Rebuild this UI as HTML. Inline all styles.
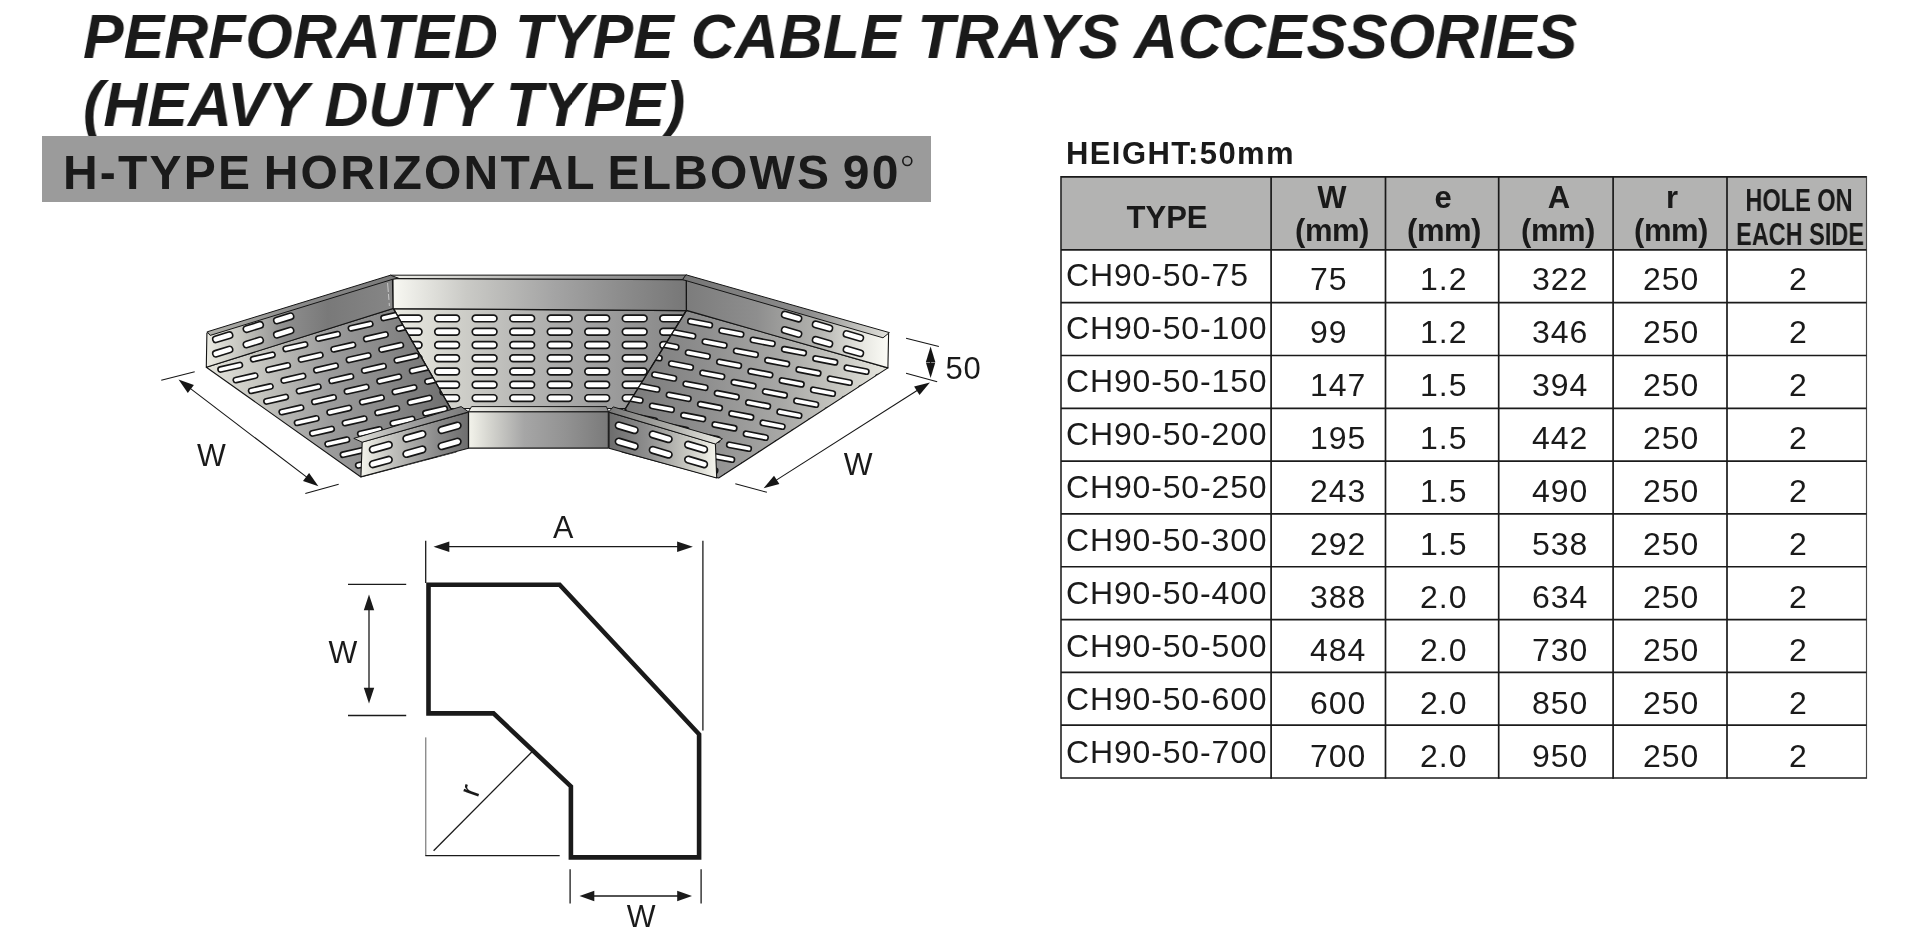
<!DOCTYPE html>
<html><head><meta charset="utf-8">
<style>
html,body{margin:0;padding:0;background:#fff;}
body{width:1920px;height:933px;position:relative;overflow:hidden;font-family:"Liberation Sans",sans-serif;color:#1a1a1a;}
.abs{position:absolute;white-space:nowrap;line-height:1;will-change:transform;}
.title{font-weight:bold;font-style:italic;font-size:63.7px;left:83px;transform-origin:0 0;transform:scaleX(0.956);}
#t1{top:3.7px;}
#t2{top:71.8px;}
#bar{position:absolute;left:42px;top:136px;width:889px;height:66px;background:#9b9b9b;}
#bartxt{font-weight:bold;font-size:48px;left:62.5px;top:149px;letter-spacing:2.2px;word-spacing:-4px;}
#hlabel{font-weight:bold;font-size:31px;left:1066px;top:138px;letter-spacing:1.4px;}
#thead{position:absolute;left:1061px;top:177px;width:805px;height:73px;background:#b3b3b2;}
.hd{font-weight:bold;font-size:31px;transform:translateX(-50%);}
.hn{font-weight:bold;font-size:31px;transform-origin:50% 50%;}
.tc{font-size:32px;letter-spacing:1px;}
svg{position:absolute;left:0;top:0;overflow:visible;}
</style></head>
<body>
<div class="abs title" id="t1">PERFORATED TYPE CABLE TRAYS ACCESSORIES</div>
<div class="abs title" id="t2">(HEAVY DUTY TYPE)</div>
<div id="bar"></div>
<div class="abs" id="bartxt">H-TYPE HORIZONTAL ELBOWS 90</div>
<div class="abs" id="hlabel">HEIGHT:50mm</div>
<div id="thead"></div>
<div class="abs hd" style="left:1166.5px;top:201.76px;">TYPE</div>
<div class="abs hd" style="left:1332.2px;top:181.66px;">W</div>
<div class="abs hd" style="left:1443.3px;top:181.66px;">e</div>
<div class="abs hd" style="left:1558.5px;top:181.66px;">A</div>
<div class="abs hd" style="left:1671.9px;top:181.66px;">r</div>
<div class="abs hd" style="left:1332.2px;top:215.16px;letter-spacing:-0.5px;">(mm)</div>
<div class="abs hd" style="left:1443.6px;top:215.16px;letter-spacing:-0.5px;">(mm)</div>
<div class="abs hd" style="left:1558.0px;top:215.16px;letter-spacing:-0.5px;">(mm)</div>
<div class="abs hd" style="left:1670.6px;top:215.16px;letter-spacing:-0.5px;">(mm)</div>
<div class="abs hd" style="left:1799.3px;top:184.56px;transform:translateX(-50%) scaleX(0.76);">HOLE ON</div>
<div class="abs hd" style="left:1799.75px;top:218.76px;transform:translateX(-50%) scaleX(0.757);">EACH SIDE</div>
<div class="abs tc" style="left:1066.2px;top:258.91px;letter-spacing:0.85px;">CH90-50-75</div>
<div class="abs tc" style="left:1310.0px;top:262.91px;">75</div>
<div class="abs tc" style="left:1420.0px;top:262.91px;">1.2</div>
<div class="abs tc" style="left:1531.7px;top:262.91px;">322</div>
<div class="abs tc" style="left:1643.2px;top:262.91px;">250</div>
<div class="abs tc" style="left:1789.0px;top:262.91px;">2</div>
<div class="abs tc" style="left:1066.2px;top:311.94px;letter-spacing:0.85px;">CH90-50-100</div>
<div class="abs tc" style="left:1310.0px;top:315.96px;">99</div>
<div class="abs tc" style="left:1420.0px;top:315.96px;">1.2</div>
<div class="abs tc" style="left:1531.7px;top:315.96px;">346</div>
<div class="abs tc" style="left:1643.2px;top:315.96px;">250</div>
<div class="abs tc" style="left:1789.0px;top:315.96px;">2</div>
<div class="abs tc" style="left:1066.2px;top:364.97px;letter-spacing:0.85px;">CH90-50-150</div>
<div class="abs tc" style="left:1310.0px;top:369.01px;">147</div>
<div class="abs tc" style="left:1420.0px;top:369.01px;">1.5</div>
<div class="abs tc" style="left:1531.7px;top:369.01px;">394</div>
<div class="abs tc" style="left:1643.2px;top:369.01px;">250</div>
<div class="abs tc" style="left:1789.0px;top:369.01px;">2</div>
<div class="abs tc" style="left:1066.2px;top:418.00px;letter-spacing:0.85px;">CH90-50-200</div>
<div class="abs tc" style="left:1310.0px;top:422.06px;">195</div>
<div class="abs tc" style="left:1420.0px;top:422.06px;">1.5</div>
<div class="abs tc" style="left:1531.7px;top:422.06px;">442</div>
<div class="abs tc" style="left:1643.2px;top:422.06px;">250</div>
<div class="abs tc" style="left:1789.0px;top:422.06px;">2</div>
<div class="abs tc" style="left:1066.2px;top:471.03px;letter-spacing:0.85px;">CH90-50-250</div>
<div class="abs tc" style="left:1310.0px;top:475.11px;">243</div>
<div class="abs tc" style="left:1420.0px;top:475.11px;">1.5</div>
<div class="abs tc" style="left:1531.7px;top:475.11px;">490</div>
<div class="abs tc" style="left:1643.2px;top:475.11px;">250</div>
<div class="abs tc" style="left:1789.0px;top:475.11px;">2</div>
<div class="abs tc" style="left:1066.2px;top:524.06px;letter-spacing:0.85px;">CH90-50-300</div>
<div class="abs tc" style="left:1310.0px;top:528.16px;">292</div>
<div class="abs tc" style="left:1420.0px;top:528.16px;">1.5</div>
<div class="abs tc" style="left:1531.7px;top:528.16px;">538</div>
<div class="abs tc" style="left:1643.2px;top:528.16px;">250</div>
<div class="abs tc" style="left:1789.0px;top:528.16px;">2</div>
<div class="abs tc" style="left:1066.2px;top:577.09px;letter-spacing:0.85px;">CH90-50-400</div>
<div class="abs tc" style="left:1310.0px;top:581.21px;">388</div>
<div class="abs tc" style="left:1420.0px;top:581.21px;">2.0</div>
<div class="abs tc" style="left:1531.7px;top:581.21px;">634</div>
<div class="abs tc" style="left:1643.2px;top:581.21px;">250</div>
<div class="abs tc" style="left:1789.0px;top:581.21px;">2</div>
<div class="abs tc" style="left:1066.2px;top:630.12px;letter-spacing:0.85px;">CH90-50-500</div>
<div class="abs tc" style="left:1310.0px;top:634.26px;">484</div>
<div class="abs tc" style="left:1420.0px;top:634.26px;">2.0</div>
<div class="abs tc" style="left:1531.7px;top:634.26px;">730</div>
<div class="abs tc" style="left:1643.2px;top:634.26px;">250</div>
<div class="abs tc" style="left:1789.0px;top:634.26px;">2</div>
<div class="abs tc" style="left:1066.2px;top:683.15px;letter-spacing:0.85px;">CH90-50-600</div>
<div class="abs tc" style="left:1310.0px;top:687.31px;">600</div>
<div class="abs tc" style="left:1420.0px;top:687.31px;">2.0</div>
<div class="abs tc" style="left:1531.7px;top:687.31px;">850</div>
<div class="abs tc" style="left:1643.2px;top:687.31px;">250</div>
<div class="abs tc" style="left:1789.0px;top:687.31px;">2</div>
<div class="abs tc" style="left:1066.2px;top:736.18px;letter-spacing:0.85px;">CH90-50-700</div>
<div class="abs tc" style="left:1310.0px;top:740.36px;">700</div>
<div class="abs tc" style="left:1420.0px;top:740.36px;">2.0</div>
<div class="abs tc" style="left:1531.7px;top:740.36px;">950</div>
<div class="abs tc" style="left:1643.2px;top:740.36px;">250</div>
<div class="abs tc" style="left:1789.0px;top:740.36px;">2</div>
<svg width="1920" height="933" viewBox="0 0 1920 933">
<g stroke="#1a1a1a" stroke-width="1.7" fill="none">
<line x1="1061" y1="176.05" x2="1061" y2="778.85" stroke="#303030"/>
<line x1="1271.1" y1="176.05" x2="1271.1" y2="778.85"/>
<line x1="1385.5" y1="176.05" x2="1385.5" y2="778.85"/>
<line x1="1498.7" y1="176.05" x2="1498.7" y2="778.85"/>
<line x1="1613.1" y1="176.05" x2="1613.1" y2="778.85"/>
<line x1="1727.0" y1="176.05" x2="1727.0" y2="778.85"/>
<line x1="1866.5" y1="176.05" x2="1866.5" y2="778.85" stroke="#484848" stroke-width="1.15"/>
<line x1="1061" y1="176.9" x2="1866.4" y2="176.9"/>
<line x1="1061" y1="249.90" x2="1866.4" y2="249.90"/>
<line x1="1061" y1="302.71" x2="1866.4" y2="302.71"/>
<line x1="1061" y1="355.52" x2="1866.4" y2="355.52"/>
<line x1="1061" y1="408.33" x2="1866.4" y2="408.33"/>
<line x1="1061" y1="461.14" x2="1866.4" y2="461.14"/>
<line x1="1061" y1="513.95" x2="1866.4" y2="513.95"/>
<line x1="1061" y1="566.76" x2="1866.4" y2="566.76"/>
<line x1="1061" y1="619.57" x2="1866.4" y2="619.57"/>
<line x1="1061" y1="672.38" x2="1866.4" y2="672.38"/>
<line x1="1061" y1="725.19" x2="1866.4" y2="725.19"/>
<line x1="1061" y1="778.00" x2="1866.4" y2="778.00"/>
</g>
<circle cx="907.3" cy="161" r="4.5" fill="none" stroke="#1a1a1a" stroke-width="1.6"/>
</svg>
<svg width="1920" height="933" viewBox="0 0 1920 933">
<defs>
<linearGradient id="gLW" gradientUnits="userSpaceOnUse" x1="207" y1="0" x2="393" y2="0"><stop offset="0" stop-color="#eaeae2"/><stop offset="0.2" stop-color="#c2c2bc"/><stop offset="0.42" stop-color="#8e8e8e"/><stop offset="0.65" stop-color="#797979"/><stop offset="1" stop-color="#868686"/></linearGradient>
<linearGradient id="gLR" gradientUnits="userSpaceOnUse" x1="207" y1="0" x2="393" y2="0"><stop offset="0" stop-color="#b0b0aa"/><stop offset="0.5" stop-color="#8a8a8a"/><stop offset="1" stop-color="#7a7a7a"/></linearGradient>
<linearGradient id="gLF" gradientUnits="userSpaceOnUse" x1="206" y1="0" x2="452" y2="0"><stop offset="0" stop-color="#e6e6de"/><stop offset="0.2" stop-color="#c8c8c2"/><stop offset="0.5" stop-color="#9c9c9c"/><stop offset="0.8" stop-color="#828282"/><stop offset="1" stop-color="#6e6e6e"/></linearGradient>
<linearGradient id="gCF" gradientUnits="userSpaceOnUse" x1="393" y1="0" x2="686" y2="0"><stop offset="0" stop-color="#ecece4"/><stop offset="0.2" stop-color="#d2d2cc"/><stop offset="0.45" stop-color="#b6b6b4"/><stop offset="0.7" stop-color="#a0a0a0"/><stop offset="1" stop-color="#858585"/></linearGradient>
<linearGradient id="gBW" gradientUnits="userSpaceOnUse" x1="393" y1="0" x2="686" y2="0"><stop offset="0" stop-color="#f8f8f2"/><stop offset="0.25" stop-color="#cacac6"/><stop offset="0.55" stop-color="#a4a4a4"/><stop offset="0.8" stop-color="#8a8a8a"/><stop offset="1" stop-color="#777777"/></linearGradient>
<linearGradient id="gBR" gradientUnits="userSpaceOnUse" x1="390" y1="0" x2="688" y2="0"><stop offset="0" stop-color="#f0f0ea"/><stop offset="0.3" stop-color="#cacac6"/><stop offset="0.6" stop-color="#a2a2a2"/><stop offset="1" stop-color="#7c7c7c"/></linearGradient>
<linearGradient id="gRW" gradientUnits="userSpaceOnUse" x1="686" y1="0" x2="888" y2="0"><stop offset="0" stop-color="#7c7c7c"/><stop offset="0.35" stop-color="#8e8e8e"/><stop offset="0.65" stop-color="#b2b2ae"/><stop offset="0.88" stop-color="#e8e8e2"/><stop offset="1" stop-color="#fbfbf6"/></linearGradient>
<linearGradient id="gRR" gradientUnits="userSpaceOnUse" x1="686" y1="0" x2="888" y2="0"><stop offset="0" stop-color="#777"/><stop offset="0.6" stop-color="#8c8c8c"/><stop offset="1" stop-color="#e0e0da"/></linearGradient>
<linearGradient id="gRF" gradientUnits="userSpaceOnUse" x1="625" y1="0" x2="888" y2="0"><stop offset="0" stop-color="#7a7a7a"/><stop offset="0.3" stop-color="#8e8e8e"/><stop offset="0.6" stop-color="#a8a8a6"/><stop offset="0.82" stop-color="#c8c8c2"/><stop offset="1" stop-color="#e8e8e0"/></linearGradient>
<linearGradient id="gFW" gradientUnits="userSpaceOnUse" x1="468" y1="0" x2="608" y2="0"><stop offset="0" stop-color="#f4f4ec"/><stop offset="0.15" stop-color="#d6d6d0"/><stop offset="0.4" stop-color="#a6a6a6"/><stop offset="0.7" stop-color="#929292"/><stop offset="1" stop-color="#7a7a7a"/></linearGradient>
<linearGradient id="gFR" gradientUnits="userSpaceOnUse" x1="468" y1="0" x2="608" y2="0"><stop offset="0" stop-color="#f0f0ea"/><stop offset="0.5" stop-color="#c0c0bc"/><stop offset="1" stop-color="#8a8a8a"/></linearGradient>
<linearGradient id="gIL" gradientUnits="userSpaceOnUse" x1="361" y1="0" x2="468" y2="0"><stop offset="0" stop-color="#f4f4ec"/><stop offset="0.3" stop-color="#c0c0bc"/><stop offset="0.7" stop-color="#8c8c8c"/><stop offset="1" stop-color="#6e6e6e"/></linearGradient>
<linearGradient id="gILR" gradientUnits="userSpaceOnUse" x1="354" y1="0" x2="468" y2="0"><stop offset="0" stop-color="#e0e0da"/><stop offset="0.5" stop-color="#a0a0a0"/><stop offset="1" stop-color="#7a7a7a"/></linearGradient>
<linearGradient id="gIR" gradientUnits="userSpaceOnUse" x1="609" y1="0" x2="717" y2="0"><stop offset="0" stop-color="#6c6c6c"/><stop offset="0.35" stop-color="#8e8e8e"/><stop offset="0.7" stop-color="#c4c4be"/><stop offset="1" stop-color="#f6f6ee"/></linearGradient>
<linearGradient id="gIRR" gradientUnits="userSpaceOnUse" x1="609" y1="0" x2="723" y2="0"><stop offset="0" stop-color="#777"/><stop offset="0.5" stop-color="#a8a8a4"/><stop offset="1" stop-color="#ecece6"/></linearGradient>
<clipPath id="cLF"><polygon points="206.3,367.2 393.4,308.6 451.0,408.8 456.0,420.0 456.0,452.0 360.9,477.0"/></clipPath>
<clipPath id="cCF"><polygon points="393.4,308.6 686.3,310.6 626.3,408.5 450.5,408.5"/></clipPath>
<clipPath id="cRF"><polygon points="686.5,310.4 887.9,367.9 718.6,478.0 622.0,452.0 622.0,415.0 625.0,409.0"/></clipPath>
</defs>
<polygon points="393.4,308.6 686.3,310.6 626.3,408.5 450.5,408.5" fill="url(#gCF)" stroke="#151515" stroke-width="1.1" stroke-linejoin="round" />
<g clip-path="url(#cCF)" fill="#fff" stroke="#151515" stroke-width="1.7">
<rect x="-12.35" y="-3.35" width="24.70" height="6.70" rx="3.35" transform="translate(409.6,318.4) rotate(0.0)"/>
<rect x="-12.35" y="-3.35" width="24.70" height="6.70" rx="3.35" transform="translate(409.6,331.7) rotate(0.0)"/>
<rect x="-12.35" y="-3.35" width="24.70" height="6.70" rx="3.35" transform="translate(409.6,345.0) rotate(0.0)"/>
<rect x="-12.35" y="-3.35" width="24.70" height="6.70" rx="3.35" transform="translate(409.6,358.2) rotate(0.0)"/>
<rect x="-12.35" y="-3.35" width="24.70" height="6.70" rx="3.35" transform="translate(409.6,371.5) rotate(0.0)"/>
<rect x="-12.35" y="-3.35" width="24.70" height="6.70" rx="3.35" transform="translate(409.6,384.8) rotate(0.0)"/>
<rect x="-12.35" y="-3.35" width="24.70" height="6.70" rx="3.35" transform="translate(409.6,398.1) rotate(0.0)"/>
<rect x="-12.35" y="-3.35" width="24.70" height="6.70" rx="3.35" transform="translate(447.1,318.4) rotate(0.0)"/>
<rect x="-12.35" y="-3.35" width="24.70" height="6.70" rx="3.35" transform="translate(447.1,331.7) rotate(0.0)"/>
<rect x="-12.35" y="-3.35" width="24.70" height="6.70" rx="3.35" transform="translate(447.1,345.0) rotate(0.0)"/>
<rect x="-12.35" y="-3.35" width="24.70" height="6.70" rx="3.35" transform="translate(447.1,358.2) rotate(0.0)"/>
<rect x="-12.35" y="-3.35" width="24.70" height="6.70" rx="3.35" transform="translate(447.1,371.5) rotate(0.0)"/>
<rect x="-12.35" y="-3.35" width="24.70" height="6.70" rx="3.35" transform="translate(447.1,384.8) rotate(0.0)"/>
<rect x="-12.35" y="-3.35" width="24.70" height="6.70" rx="3.35" transform="translate(447.1,398.1) rotate(0.0)"/>
<rect x="-12.35" y="-3.35" width="24.70" height="6.70" rx="3.35" transform="translate(484.6,318.4) rotate(0.0)"/>
<rect x="-12.35" y="-3.35" width="24.70" height="6.70" rx="3.35" transform="translate(484.6,331.7) rotate(0.0)"/>
<rect x="-12.35" y="-3.35" width="24.70" height="6.70" rx="3.35" transform="translate(484.6,345.0) rotate(0.0)"/>
<rect x="-12.35" y="-3.35" width="24.70" height="6.70" rx="3.35" transform="translate(484.6,358.2) rotate(0.0)"/>
<rect x="-12.35" y="-3.35" width="24.70" height="6.70" rx="3.35" transform="translate(484.6,371.5) rotate(0.0)"/>
<rect x="-12.35" y="-3.35" width="24.70" height="6.70" rx="3.35" transform="translate(484.6,384.8) rotate(0.0)"/>
<rect x="-12.35" y="-3.35" width="24.70" height="6.70" rx="3.35" transform="translate(484.6,398.1) rotate(0.0)"/>
<rect x="-12.35" y="-3.35" width="24.70" height="6.70" rx="3.35" transform="translate(522.2,318.4) rotate(0.0)"/>
<rect x="-12.35" y="-3.35" width="24.70" height="6.70" rx="3.35" transform="translate(522.2,331.7) rotate(0.0)"/>
<rect x="-12.35" y="-3.35" width="24.70" height="6.70" rx="3.35" transform="translate(522.2,345.0) rotate(0.0)"/>
<rect x="-12.35" y="-3.35" width="24.70" height="6.70" rx="3.35" transform="translate(522.2,358.2) rotate(0.0)"/>
<rect x="-12.35" y="-3.35" width="24.70" height="6.70" rx="3.35" transform="translate(522.2,371.5) rotate(0.0)"/>
<rect x="-12.35" y="-3.35" width="24.70" height="6.70" rx="3.35" transform="translate(522.2,384.8) rotate(0.0)"/>
<rect x="-12.35" y="-3.35" width="24.70" height="6.70" rx="3.35" transform="translate(522.2,398.1) rotate(0.0)"/>
<rect x="-12.35" y="-3.35" width="24.70" height="6.70" rx="3.35" transform="translate(559.7,318.4) rotate(0.0)"/>
<rect x="-12.35" y="-3.35" width="24.70" height="6.70" rx="3.35" transform="translate(559.7,331.7) rotate(0.0)"/>
<rect x="-12.35" y="-3.35" width="24.70" height="6.70" rx="3.35" transform="translate(559.7,345.0) rotate(0.0)"/>
<rect x="-12.35" y="-3.35" width="24.70" height="6.70" rx="3.35" transform="translate(559.7,358.2) rotate(0.0)"/>
<rect x="-12.35" y="-3.35" width="24.70" height="6.70" rx="3.35" transform="translate(559.7,371.5) rotate(0.0)"/>
<rect x="-12.35" y="-3.35" width="24.70" height="6.70" rx="3.35" transform="translate(559.7,384.8) rotate(0.0)"/>
<rect x="-12.35" y="-3.35" width="24.70" height="6.70" rx="3.35" transform="translate(559.7,398.1) rotate(0.0)"/>
<rect x="-12.35" y="-3.35" width="24.70" height="6.70" rx="3.35" transform="translate(597.2,318.4) rotate(0.0)"/>
<rect x="-12.35" y="-3.35" width="24.70" height="6.70" rx="3.35" transform="translate(597.2,331.7) rotate(0.0)"/>
<rect x="-12.35" y="-3.35" width="24.70" height="6.70" rx="3.35" transform="translate(597.2,345.0) rotate(0.0)"/>
<rect x="-12.35" y="-3.35" width="24.70" height="6.70" rx="3.35" transform="translate(597.2,358.2) rotate(0.0)"/>
<rect x="-12.35" y="-3.35" width="24.70" height="6.70" rx="3.35" transform="translate(597.2,371.5) rotate(0.0)"/>
<rect x="-12.35" y="-3.35" width="24.70" height="6.70" rx="3.35" transform="translate(597.2,384.8) rotate(0.0)"/>
<rect x="-12.35" y="-3.35" width="24.70" height="6.70" rx="3.35" transform="translate(597.2,398.1) rotate(0.0)"/>
<rect x="-12.35" y="-3.35" width="24.70" height="6.70" rx="3.35" transform="translate(634.7,318.4) rotate(0.0)"/>
<rect x="-12.35" y="-3.35" width="24.70" height="6.70" rx="3.35" transform="translate(634.7,331.7) rotate(0.0)"/>
<rect x="-12.35" y="-3.35" width="24.70" height="6.70" rx="3.35" transform="translate(634.7,345.0) rotate(0.0)"/>
<rect x="-12.35" y="-3.35" width="24.70" height="6.70" rx="3.35" transform="translate(634.7,358.2) rotate(0.0)"/>
<rect x="-12.35" y="-3.35" width="24.70" height="6.70" rx="3.35" transform="translate(634.7,371.5) rotate(0.0)"/>
<rect x="-12.35" y="-3.35" width="24.70" height="6.70" rx="3.35" transform="translate(634.7,384.8) rotate(0.0)"/>
<rect x="-12.35" y="-3.35" width="24.70" height="6.70" rx="3.35" transform="translate(634.7,398.1) rotate(0.0)"/>
<rect x="-12.35" y="-3.35" width="24.70" height="6.70" rx="3.35" transform="translate(672.2,318.4) rotate(0.0)"/>
<rect x="-12.35" y="-3.35" width="24.70" height="6.70" rx="3.35" transform="translate(672.2,331.7) rotate(0.0)"/>
<rect x="-12.35" y="-3.35" width="24.70" height="6.70" rx="3.35" transform="translate(672.2,345.0) rotate(0.0)"/>
<rect x="-12.35" y="-3.35" width="24.70" height="6.70" rx="3.35" transform="translate(672.2,358.2) rotate(0.0)"/>
<rect x="-12.35" y="-3.35" width="24.70" height="6.70" rx="3.35" transform="translate(672.2,371.5) rotate(0.0)"/>
<rect x="-12.35" y="-3.35" width="24.70" height="6.70" rx="3.35" transform="translate(672.2,384.8) rotate(0.0)"/>
<rect x="-12.35" y="-3.35" width="24.70" height="6.70" rx="3.35" transform="translate(672.2,398.1) rotate(0.0)"/>
</g>
<polygon points="206.3,367.2 393.4,308.6 451.0,408.8 456.0,420.0 456.0,452.0 360.9,477.0" fill="url(#gLF)" stroke="#151515" stroke-width="1.1" stroke-linejoin="round" />
<g clip-path="url(#cLF)" fill="#fff" stroke="#151515" stroke-width="1.65">
<rect x="-12.50" y="-2.65" width="25.00" height="5.30" rx="2.65" transform="translate(214.9,356.7) rotate(-12.8)"/>
<rect x="-12.50" y="-2.65" width="25.00" height="5.30" rx="2.65" transform="translate(247.5,346.4) rotate(-12.8)"/>
<rect x="-12.50" y="-2.65" width="25.00" height="5.30" rx="2.65" transform="translate(280.1,336.1) rotate(-12.8)"/>
<rect x="-12.50" y="-2.65" width="25.00" height="5.30" rx="2.65" transform="translate(312.7,325.8) rotate(-12.8)"/>
<rect x="-12.50" y="-2.65" width="25.00" height="5.30" rx="2.65" transform="translate(345.3,315.5) rotate(-12.8)"/>
<rect x="-12.50" y="-2.65" width="25.00" height="5.30" rx="2.65" transform="translate(377.9,305.2) rotate(-12.8)"/>
<rect x="-12.50" y="-2.65" width="25.00" height="5.30" rx="2.65" transform="translate(197.6,377.6) rotate(-12.8)"/>
<rect x="-12.50" y="-2.65" width="25.00" height="5.30" rx="2.65" transform="translate(230.2,367.3) rotate(-12.8)"/>
<rect x="-12.50" y="-2.65" width="25.00" height="5.30" rx="2.65" transform="translate(262.8,357.0) rotate(-12.8)"/>
<rect x="-12.50" y="-2.65" width="25.00" height="5.30" rx="2.65" transform="translate(295.4,346.7) rotate(-12.8)"/>
<rect x="-12.50" y="-2.65" width="25.00" height="5.30" rx="2.65" transform="translate(328.0,336.4) rotate(-12.8)"/>
<rect x="-12.50" y="-2.65" width="25.00" height="5.30" rx="2.65" transform="translate(360.6,326.1) rotate(-12.8)"/>
<rect x="-12.50" y="-2.65" width="25.00" height="5.30" rx="2.65" transform="translate(393.2,315.8) rotate(-12.8)"/>
<rect x="-12.50" y="-2.65" width="25.00" height="5.30" rx="2.65" transform="translate(425.8,305.5) rotate(-12.8)"/>
<rect x="-12.50" y="-2.65" width="25.00" height="5.30" rx="2.65" transform="translate(212.9,388.2) rotate(-12.8)"/>
<rect x="-12.50" y="-2.65" width="25.00" height="5.30" rx="2.65" transform="translate(245.5,377.9) rotate(-12.8)"/>
<rect x="-12.50" y="-2.65" width="25.00" height="5.30" rx="2.65" transform="translate(278.1,367.6) rotate(-12.8)"/>
<rect x="-12.50" y="-2.65" width="25.00" height="5.30" rx="2.65" transform="translate(310.7,357.3) rotate(-12.8)"/>
<rect x="-12.50" y="-2.65" width="25.00" height="5.30" rx="2.65" transform="translate(343.3,347.1) rotate(-12.8)"/>
<rect x="-12.50" y="-2.65" width="25.00" height="5.30" rx="2.65" transform="translate(375.9,336.8) rotate(-12.8)"/>
<rect x="-12.50" y="-2.65" width="25.00" height="5.30" rx="2.65" transform="translate(408.5,326.4) rotate(-12.8)"/>
<rect x="-12.50" y="-2.65" width="25.00" height="5.30" rx="2.65" transform="translate(441.1,316.1) rotate(-12.8)"/>
<rect x="-12.50" y="-2.65" width="25.00" height="5.30" rx="2.65" transform="translate(195.6,409.2) rotate(-12.8)"/>
<rect x="-12.50" y="-2.65" width="25.00" height="5.30" rx="2.65" transform="translate(228.2,398.9) rotate(-12.8)"/>
<rect x="-12.50" y="-2.65" width="25.00" height="5.30" rx="2.65" transform="translate(260.8,388.6) rotate(-12.8)"/>
<rect x="-12.50" y="-2.65" width="25.00" height="5.30" rx="2.65" transform="translate(293.4,378.3) rotate(-12.8)"/>
<rect x="-12.50" y="-2.65" width="25.00" height="5.30" rx="2.65" transform="translate(326.0,368.0) rotate(-12.8)"/>
<rect x="-12.50" y="-2.65" width="25.00" height="5.30" rx="2.65" transform="translate(358.6,357.7) rotate(-12.8)"/>
<rect x="-12.50" y="-2.65" width="25.00" height="5.30" rx="2.65" transform="translate(391.2,347.4) rotate(-12.8)"/>
<rect x="-12.50" y="-2.65" width="25.00" height="5.30" rx="2.65" transform="translate(423.8,337.1) rotate(-12.8)"/>
<rect x="-12.50" y="-2.65" width="25.00" height="5.30" rx="2.65" transform="translate(456.4,326.8) rotate(-12.8)"/>
<rect x="-12.50" y="-2.65" width="25.00" height="5.30" rx="2.65" transform="translate(210.9,419.9) rotate(-12.8)"/>
<rect x="-12.50" y="-2.65" width="25.00" height="5.30" rx="2.65" transform="translate(243.5,409.6) rotate(-12.8)"/>
<rect x="-12.50" y="-2.65" width="25.00" height="5.30" rx="2.65" transform="translate(276.1,399.2) rotate(-12.8)"/>
<rect x="-12.50" y="-2.65" width="25.00" height="5.30" rx="2.65" transform="translate(308.7,388.9) rotate(-12.8)"/>
<rect x="-12.50" y="-2.65" width="25.00" height="5.30" rx="2.65" transform="translate(341.3,378.6) rotate(-12.8)"/>
<rect x="-12.50" y="-2.65" width="25.00" height="5.30" rx="2.65" transform="translate(373.9,368.4) rotate(-12.8)"/>
<rect x="-12.50" y="-2.65" width="25.00" height="5.30" rx="2.65" transform="translate(406.5,358.1) rotate(-12.8)"/>
<rect x="-12.50" y="-2.65" width="25.00" height="5.30" rx="2.65" transform="translate(439.1,347.8) rotate(-12.8)"/>
<rect x="-12.50" y="-2.65" width="25.00" height="5.30" rx="2.65" transform="translate(226.2,430.5) rotate(-12.8)"/>
<rect x="-12.50" y="-2.65" width="25.00" height="5.30" rx="2.65" transform="translate(258.8,420.2) rotate(-12.8)"/>
<rect x="-12.50" y="-2.65" width="25.00" height="5.30" rx="2.65" transform="translate(291.4,409.9) rotate(-12.8)"/>
<rect x="-12.50" y="-2.65" width="25.00" height="5.30" rx="2.65" transform="translate(324.0,399.6) rotate(-12.8)"/>
<rect x="-12.50" y="-2.65" width="25.00" height="5.30" rx="2.65" transform="translate(356.6,389.3) rotate(-12.8)"/>
<rect x="-12.50" y="-2.65" width="25.00" height="5.30" rx="2.65" transform="translate(389.2,379.0) rotate(-12.8)"/>
<rect x="-12.50" y="-2.65" width="25.00" height="5.30" rx="2.65" transform="translate(421.8,368.7) rotate(-12.8)"/>
<rect x="-12.50" y="-2.65" width="25.00" height="5.30" rx="2.65" transform="translate(454.4,358.4) rotate(-12.8)"/>
<rect x="-12.50" y="-2.65" width="25.00" height="5.30" rx="2.65" transform="translate(208.9,451.4) rotate(-12.8)"/>
<rect x="-12.50" y="-2.65" width="25.00" height="5.30" rx="2.65" transform="translate(241.5,441.2) rotate(-12.8)"/>
<rect x="-12.50" y="-2.65" width="25.00" height="5.30" rx="2.65" transform="translate(274.1,430.9) rotate(-12.8)"/>
<rect x="-12.50" y="-2.65" width="25.00" height="5.30" rx="2.65" transform="translate(306.7,420.6) rotate(-12.8)"/>
<rect x="-12.50" y="-2.65" width="25.00" height="5.30" rx="2.65" transform="translate(339.3,410.2) rotate(-12.8)"/>
<rect x="-12.50" y="-2.65" width="25.00" height="5.30" rx="2.65" transform="translate(371.9,399.9) rotate(-12.8)"/>
<rect x="-12.50" y="-2.65" width="25.00" height="5.30" rx="2.65" transform="translate(404.5,389.7) rotate(-12.8)"/>
<rect x="-12.50" y="-2.65" width="25.00" height="5.30" rx="2.65" transform="translate(437.1,379.4) rotate(-12.8)"/>
<rect x="-12.50" y="-2.65" width="25.00" height="5.30" rx="2.65" transform="translate(469.7,369.1) rotate(-12.8)"/>
<rect x="-12.50" y="-2.65" width="25.00" height="5.30" rx="2.65" transform="translate(224.2,462.1) rotate(-12.8)"/>
<rect x="-12.50" y="-2.65" width="25.00" height="5.30" rx="2.65" transform="translate(256.8,451.8) rotate(-12.8)"/>
<rect x="-12.50" y="-2.65" width="25.00" height="5.30" rx="2.65" transform="translate(289.4,441.5) rotate(-12.8)"/>
<rect x="-12.50" y="-2.65" width="25.00" height="5.30" rx="2.65" transform="translate(322.0,431.2) rotate(-12.8)"/>
<rect x="-12.50" y="-2.65" width="25.00" height="5.30" rx="2.65" transform="translate(354.6,420.9) rotate(-12.8)"/>
<rect x="-12.50" y="-2.65" width="25.00" height="5.30" rx="2.65" transform="translate(387.2,410.6) rotate(-12.8)"/>
<rect x="-12.50" y="-2.65" width="25.00" height="5.30" rx="2.65" transform="translate(419.8,400.3) rotate(-12.8)"/>
<rect x="-12.50" y="-2.65" width="25.00" height="5.30" rx="2.65" transform="translate(452.4,390.0) rotate(-12.8)"/>
<rect x="-12.50" y="-2.65" width="25.00" height="5.30" rx="2.65" transform="translate(206.9,483.1) rotate(-12.8)"/>
<rect x="-12.50" y="-2.65" width="25.00" height="5.30" rx="2.65" transform="translate(239.5,472.8) rotate(-12.8)"/>
<rect x="-12.50" y="-2.65" width="25.00" height="5.30" rx="2.65" transform="translate(272.1,462.5) rotate(-12.8)"/>
<rect x="-12.50" y="-2.65" width="25.00" height="5.30" rx="2.65" transform="translate(304.7,452.2) rotate(-12.8)"/>
<rect x="-12.50" y="-2.65" width="25.00" height="5.30" rx="2.65" transform="translate(337.3,441.9) rotate(-12.8)"/>
<rect x="-12.50" y="-2.65" width="25.00" height="5.30" rx="2.65" transform="translate(369.9,431.6) rotate(-12.8)"/>
<rect x="-12.50" y="-2.65" width="25.00" height="5.30" rx="2.65" transform="translate(402.5,421.2) rotate(-12.8)"/>
<rect x="-12.50" y="-2.65" width="25.00" height="5.30" rx="2.65" transform="translate(435.1,411.0) rotate(-12.8)"/>
<rect x="-12.50" y="-2.65" width="25.00" height="5.30" rx="2.65" transform="translate(467.7,400.7) rotate(-12.8)"/>
<rect x="-12.50" y="-2.65" width="25.00" height="5.30" rx="2.65" transform="translate(254.8,483.4) rotate(-12.8)"/>
<rect x="-12.50" y="-2.65" width="25.00" height="5.30" rx="2.65" transform="translate(287.4,473.1) rotate(-12.8)"/>
<rect x="-12.50" y="-2.65" width="25.00" height="5.30" rx="2.65" transform="translate(320.0,462.8) rotate(-12.8)"/>
<rect x="-12.50" y="-2.65" width="25.00" height="5.30" rx="2.65" transform="translate(352.6,452.5) rotate(-12.8)"/>
<rect x="-12.50" y="-2.65" width="25.00" height="5.30" rx="2.65" transform="translate(385.2,442.2) rotate(-12.8)"/>
<rect x="-12.50" y="-2.65" width="25.00" height="5.30" rx="2.65" transform="translate(417.8,431.9) rotate(-12.8)"/>
<rect x="-12.50" y="-2.65" width="25.00" height="5.30" rx="2.65" transform="translate(450.4,421.6) rotate(-12.8)"/>
<rect x="-12.50" y="-2.65" width="25.00" height="5.30" rx="2.65" transform="translate(302.7,483.8) rotate(-12.8)"/>
<rect x="-12.50" y="-2.65" width="25.00" height="5.30" rx="2.65" transform="translate(335.3,473.5) rotate(-12.8)"/>
<rect x="-12.50" y="-2.65" width="25.00" height="5.30" rx="2.65" transform="translate(367.9,463.2) rotate(-12.8)"/>
<rect x="-12.50" y="-2.65" width="25.00" height="5.30" rx="2.65" transform="translate(400.5,452.9) rotate(-12.8)"/>
<rect x="-12.50" y="-2.65" width="25.00" height="5.30" rx="2.65" transform="translate(433.1,442.6) rotate(-12.8)"/>
<rect x="-12.50" y="-2.65" width="25.00" height="5.30" rx="2.65" transform="translate(465.7,432.3) rotate(-12.8)"/>
<rect x="-12.50" y="-2.65" width="25.00" height="5.30" rx="2.65" transform="translate(350.6,484.1) rotate(-12.8)"/>
<rect x="-12.50" y="-2.65" width="25.00" height="5.30" rx="2.65" transform="translate(383.2,473.8) rotate(-12.8)"/>
<rect x="-12.50" y="-2.65" width="25.00" height="5.30" rx="2.65" transform="translate(415.8,463.5) rotate(-12.8)"/>
<rect x="-12.50" y="-2.65" width="25.00" height="5.30" rx="2.65" transform="translate(448.4,453.2) rotate(-12.8)"/>
</g>
<polygon points="686.5,310.4 887.9,367.9 718.6,478.0 622.0,452.0 622.0,415.0 625.0,409.0" fill="url(#gRF)" stroke="#151515" stroke-width="1.1" stroke-linejoin="round" />
<g clip-path="url(#cRF)" fill="#fff" stroke="#151515" stroke-width="1.65">
<rect x="-12.50" y="-2.65" width="25.00" height="5.30" rx="2.65" transform="translate(685.6,302.9) rotate(10.8)"/>
<rect x="-12.50" y="-2.65" width="25.00" height="5.30" rx="2.65" transform="translate(716.9,312.2) rotate(10.8)"/>
<rect x="-12.50" y="-2.65" width="25.00" height="5.30" rx="2.65" transform="translate(748.2,321.5) rotate(10.8)"/>
<rect x="-12.50" y="-2.65" width="25.00" height="5.30" rx="2.65" transform="translate(779.5,330.8) rotate(10.8)"/>
<rect x="-12.50" y="-2.65" width="25.00" height="5.30" rx="2.65" transform="translate(810.8,340.1) rotate(10.8)"/>
<rect x="-12.50" y="-2.65" width="25.00" height="5.30" rx="2.65" transform="translate(842.1,349.4) rotate(10.8)"/>
<rect x="-12.50" y="-2.65" width="25.00" height="5.30" rx="2.65" transform="translate(873.4,358.7) rotate(10.8)"/>
<rect x="-12.50" y="-2.65" width="25.00" height="5.30" rx="2.65" transform="translate(637.5,304.6) rotate(10.8)"/>
<rect x="-12.50" y="-2.65" width="25.00" height="5.30" rx="2.65" transform="translate(668.8,313.9) rotate(10.8)"/>
<rect x="-12.50" y="-2.65" width="25.00" height="5.30" rx="2.65" transform="translate(700.1,323.2) rotate(10.8)"/>
<rect x="-12.50" y="-2.65" width="25.00" height="5.30" rx="2.65" transform="translate(731.4,332.5) rotate(10.8)"/>
<rect x="-12.50" y="-2.65" width="25.00" height="5.30" rx="2.65" transform="translate(762.7,341.8) rotate(10.8)"/>
<rect x="-12.50" y="-2.65" width="25.00" height="5.30" rx="2.65" transform="translate(794.0,351.1) rotate(10.8)"/>
<rect x="-12.50" y="-2.65" width="25.00" height="5.30" rx="2.65" transform="translate(825.3,360.4) rotate(10.8)"/>
<rect x="-12.50" y="-2.65" width="25.00" height="5.30" rx="2.65" transform="translate(856.6,369.7) rotate(10.8)"/>
<rect x="-12.50" y="-2.65" width="25.00" height="5.30" rx="2.65" transform="translate(887.9,379.0) rotate(10.8)"/>
<rect x="-12.50" y="-2.65" width="25.00" height="5.30" rx="2.65" transform="translate(620.7,315.6) rotate(10.8)"/>
<rect x="-12.50" y="-2.65" width="25.00" height="5.30" rx="2.65" transform="translate(652.0,324.9) rotate(10.8)"/>
<rect x="-12.50" y="-2.65" width="25.00" height="5.30" rx="2.65" transform="translate(683.3,334.2) rotate(10.8)"/>
<rect x="-12.50" y="-2.65" width="25.00" height="5.30" rx="2.65" transform="translate(714.6,343.5) rotate(10.8)"/>
<rect x="-12.50" y="-2.65" width="25.00" height="5.30" rx="2.65" transform="translate(745.9,352.8) rotate(10.8)"/>
<rect x="-12.50" y="-2.65" width="25.00" height="5.30" rx="2.65" transform="translate(777.2,362.1) rotate(10.8)"/>
<rect x="-12.50" y="-2.65" width="25.00" height="5.30" rx="2.65" transform="translate(808.5,371.4) rotate(10.8)"/>
<rect x="-12.50" y="-2.65" width="25.00" height="5.30" rx="2.65" transform="translate(839.8,380.7) rotate(10.8)"/>
<rect x="-12.50" y="-2.65" width="25.00" height="5.30" rx="2.65" transform="translate(871.1,390.0) rotate(10.8)"/>
<rect x="-12.50" y="-2.65" width="25.00" height="5.30" rx="2.65" transform="translate(635.2,335.9) rotate(10.8)"/>
<rect x="-12.50" y="-2.65" width="25.00" height="5.30" rx="2.65" transform="translate(666.5,345.2) rotate(10.8)"/>
<rect x="-12.50" y="-2.65" width="25.00" height="5.30" rx="2.65" transform="translate(697.8,354.5) rotate(10.8)"/>
<rect x="-12.50" y="-2.65" width="25.00" height="5.30" rx="2.65" transform="translate(729.1,363.8) rotate(10.8)"/>
<rect x="-12.50" y="-2.65" width="25.00" height="5.30" rx="2.65" transform="translate(760.4,373.1) rotate(10.8)"/>
<rect x="-12.50" y="-2.65" width="25.00" height="5.30" rx="2.65" transform="translate(791.7,382.4) rotate(10.8)"/>
<rect x="-12.50" y="-2.65" width="25.00" height="5.30" rx="2.65" transform="translate(823.0,391.7) rotate(10.8)"/>
<rect x="-12.50" y="-2.65" width="25.00" height="5.30" rx="2.65" transform="translate(854.3,401.0) rotate(10.8)"/>
<rect x="-12.50" y="-2.65" width="25.00" height="5.30" rx="2.65" transform="translate(885.6,410.3) rotate(10.8)"/>
<rect x="-12.50" y="-2.65" width="25.00" height="5.30" rx="2.65" transform="translate(618.4,346.9) rotate(10.8)"/>
<rect x="-12.50" y="-2.65" width="25.00" height="5.30" rx="2.65" transform="translate(649.7,356.2) rotate(10.8)"/>
<rect x="-12.50" y="-2.65" width="25.00" height="5.30" rx="2.65" transform="translate(681.0,365.5) rotate(10.8)"/>
<rect x="-12.50" y="-2.65" width="25.00" height="5.30" rx="2.65" transform="translate(712.3,374.8) rotate(10.8)"/>
<rect x="-12.50" y="-2.65" width="25.00" height="5.30" rx="2.65" transform="translate(743.6,384.1) rotate(10.8)"/>
<rect x="-12.50" y="-2.65" width="25.00" height="5.30" rx="2.65" transform="translate(774.9,393.4) rotate(10.8)"/>
<rect x="-12.50" y="-2.65" width="25.00" height="5.30" rx="2.65" transform="translate(806.2,402.7) rotate(10.8)"/>
<rect x="-12.50" y="-2.65" width="25.00" height="5.30" rx="2.65" transform="translate(837.5,412.0) rotate(10.8)"/>
<rect x="-12.50" y="-2.65" width="25.00" height="5.30" rx="2.65" transform="translate(868.8,421.3) rotate(10.8)"/>
<rect x="-12.50" y="-2.65" width="25.00" height="5.30" rx="2.65" transform="translate(632.9,367.2) rotate(10.8)"/>
<rect x="-12.50" y="-2.65" width="25.00" height="5.30" rx="2.65" transform="translate(664.2,376.5) rotate(10.8)"/>
<rect x="-12.50" y="-2.65" width="25.00" height="5.30" rx="2.65" transform="translate(695.5,385.8) rotate(10.8)"/>
<rect x="-12.50" y="-2.65" width="25.00" height="5.30" rx="2.65" transform="translate(726.8,395.1) rotate(10.8)"/>
<rect x="-12.50" y="-2.65" width="25.00" height="5.30" rx="2.65" transform="translate(758.1,404.4) rotate(10.8)"/>
<rect x="-12.50" y="-2.65" width="25.00" height="5.30" rx="2.65" transform="translate(789.4,413.7) rotate(10.8)"/>
<rect x="-12.50" y="-2.65" width="25.00" height="5.30" rx="2.65" transform="translate(820.7,423.0) rotate(10.8)"/>
<rect x="-12.50" y="-2.65" width="25.00" height="5.30" rx="2.65" transform="translate(852.0,432.3) rotate(10.8)"/>
<rect x="-12.50" y="-2.65" width="25.00" height="5.30" rx="2.65" transform="translate(616.1,378.2) rotate(10.8)"/>
<rect x="-12.50" y="-2.65" width="25.00" height="5.30" rx="2.65" transform="translate(647.4,387.5) rotate(10.8)"/>
<rect x="-12.50" y="-2.65" width="25.00" height="5.30" rx="2.65" transform="translate(678.7,396.8) rotate(10.8)"/>
<rect x="-12.50" y="-2.65" width="25.00" height="5.30" rx="2.65" transform="translate(710.0,406.1) rotate(10.8)"/>
<rect x="-12.50" y="-2.65" width="25.00" height="5.30" rx="2.65" transform="translate(741.3,415.4) rotate(10.8)"/>
<rect x="-12.50" y="-2.65" width="25.00" height="5.30" rx="2.65" transform="translate(772.6,424.7) rotate(10.8)"/>
<rect x="-12.50" y="-2.65" width="25.00" height="5.30" rx="2.65" transform="translate(803.9,434.0) rotate(10.8)"/>
<rect x="-12.50" y="-2.65" width="25.00" height="5.30" rx="2.65" transform="translate(835.2,443.3) rotate(10.8)"/>
<rect x="-12.50" y="-2.65" width="25.00" height="5.30" rx="2.65" transform="translate(630.6,398.5) rotate(10.8)"/>
<rect x="-12.50" y="-2.65" width="25.00" height="5.30" rx="2.65" transform="translate(661.9,407.8) rotate(10.8)"/>
<rect x="-12.50" y="-2.65" width="25.00" height="5.30" rx="2.65" transform="translate(693.2,417.1) rotate(10.8)"/>
<rect x="-12.50" y="-2.65" width="25.00" height="5.30" rx="2.65" transform="translate(724.5,426.4) rotate(10.8)"/>
<rect x="-12.50" y="-2.65" width="25.00" height="5.30" rx="2.65" transform="translate(755.8,435.7) rotate(10.8)"/>
<rect x="-12.50" y="-2.65" width="25.00" height="5.30" rx="2.65" transform="translate(787.1,445.0) rotate(10.8)"/>
<rect x="-12.50" y="-2.65" width="25.00" height="5.30" rx="2.65" transform="translate(818.4,454.3) rotate(10.8)"/>
<rect x="-12.50" y="-2.65" width="25.00" height="5.30" rx="2.65" transform="translate(613.8,409.5) rotate(10.8)"/>
<rect x="-12.50" y="-2.65" width="25.00" height="5.30" rx="2.65" transform="translate(645.1,418.8) rotate(10.8)"/>
<rect x="-12.50" y="-2.65" width="25.00" height="5.30" rx="2.65" transform="translate(676.4,428.1) rotate(10.8)"/>
<rect x="-12.50" y="-2.65" width="25.00" height="5.30" rx="2.65" transform="translate(707.7,437.4) rotate(10.8)"/>
<rect x="-12.50" y="-2.65" width="25.00" height="5.30" rx="2.65" transform="translate(739.0,446.7) rotate(10.8)"/>
<rect x="-12.50" y="-2.65" width="25.00" height="5.30" rx="2.65" transform="translate(770.3,456.0) rotate(10.8)"/>
<rect x="-12.50" y="-2.65" width="25.00" height="5.30" rx="2.65" transform="translate(801.6,465.3) rotate(10.8)"/>
<rect x="-12.50" y="-2.65" width="25.00" height="5.30" rx="2.65" transform="translate(628.3,429.8) rotate(10.8)"/>
<rect x="-12.50" y="-2.65" width="25.00" height="5.30" rx="2.65" transform="translate(659.6,439.1) rotate(10.8)"/>
<rect x="-12.50" y="-2.65" width="25.00" height="5.30" rx="2.65" transform="translate(690.9,448.4) rotate(10.8)"/>
<rect x="-12.50" y="-2.65" width="25.00" height="5.30" rx="2.65" transform="translate(722.2,457.7) rotate(10.8)"/>
<rect x="-12.50" y="-2.65" width="25.00" height="5.30" rx="2.65" transform="translate(753.5,467.0) rotate(10.8)"/>
<rect x="-12.50" y="-2.65" width="25.00" height="5.30" rx="2.65" transform="translate(784.8,476.3) rotate(10.8)"/>
<rect x="-12.50" y="-2.65" width="25.00" height="5.30" rx="2.65" transform="translate(611.5,440.8) rotate(10.8)"/>
<rect x="-12.50" y="-2.65" width="25.00" height="5.30" rx="2.65" transform="translate(642.8,450.1) rotate(10.8)"/>
<rect x="-12.50" y="-2.65" width="25.00" height="5.30" rx="2.65" transform="translate(674.1,459.4) rotate(10.8)"/>
<rect x="-12.50" y="-2.65" width="25.00" height="5.30" rx="2.65" transform="translate(705.4,468.7) rotate(10.8)"/>
<rect x="-12.50" y="-2.65" width="25.00" height="5.30" rx="2.65" transform="translate(736.7,478.0) rotate(10.8)"/>
<rect x="-12.50" y="-2.65" width="25.00" height="5.30" rx="2.65" transform="translate(626.0,461.1) rotate(10.8)"/>
<rect x="-12.50" y="-2.65" width="25.00" height="5.30" rx="2.65" transform="translate(657.3,470.4) rotate(10.8)"/>
<rect x="-12.50" y="-2.65" width="25.00" height="5.30" rx="2.65" transform="translate(688.6,479.7) rotate(10.8)"/>
</g>
<g stroke="#151515" stroke-width="1.2" fill="none"><line x1="393.4" y1="308.6" x2="450.8" y2="408.8"/><line x1="686.3" y1="310.6" x2="625.5" y2="408.8"/></g>
<polygon points="393.0,278.5 686.3,279.6 686.3,310.6 393.0,308.6" fill="url(#gBW)" stroke="#151515" stroke-width="1.1" stroke-linejoin="round" />
<polygon points="390.5,275.2 686.5,275.0 682.5,279.6 394.5,278.5" fill="url(#gBR)" stroke="#151515" stroke-width="1.0" stroke-linejoin="round" />
<polygon points="206.9,333.0 392.4,278.6 393.0,308.6 206.3,367.2" fill="url(#gLW)" stroke="#151515" stroke-width="1.1" stroke-linejoin="round" />
<line x1="387.6" y1="283" x2="389.4" y2="306" stroke="#d0d0d0" stroke-width="0.9" stroke-dasharray="9 2 6 3"/>
<g fill="#fff" stroke="#151515" stroke-width="1.6">
<rect x="-10.30" y="-3.20" width="20.60" height="6.40" rx="3.20" transform="translate(222.7,337.2) rotate(-17.1)"/>
<rect x="-10.30" y="-3.20" width="20.60" height="6.40" rx="3.20" transform="translate(222.7,351.6) rotate(-17.1)"/>
<rect x="-10.30" y="-3.20" width="20.60" height="6.40" rx="3.20" transform="translate(253.3,327.0) rotate(-17.1)"/>
<rect x="-10.30" y="-3.20" width="20.60" height="6.40" rx="3.20" transform="translate(253.3,342.4) rotate(-17.1)"/>
<rect x="-10.30" y="-3.20" width="20.60" height="6.40" rx="3.20" transform="translate(283.7,318.4) rotate(-17.1)"/>
<rect x="-10.30" y="-3.20" width="20.60" height="6.40" rx="3.20" transform="translate(283.7,332.6) rotate(-17.1)"/>
</g>
<polygon points="207.2,331.8 390.5,275.2 398.5,278.2 393.0,279.2 210.2,335.4" fill="url(#gLR)" stroke="#151515" stroke-width="1.0" stroke-linejoin="round" />
<polygon points="686.4,279.0 888.6,333.6 887.9,367.9 686.5,310.4" fill="url(#gRW)" stroke="#151515" stroke-width="1.1" stroke-linejoin="round" />
<g fill="#fff" stroke="#151515" stroke-width="1.6">
<rect x="-10.30" y="-3.20" width="20.60" height="6.40" rx="3.20" transform="translate(791.6,316.6) rotate(16.1)"/>
<rect x="-10.30" y="-3.20" width="20.60" height="6.40" rx="3.20" transform="translate(791.6,332.0) rotate(16.1)"/>
<rect x="-10.30" y="-3.20" width="20.60" height="6.40" rx="3.20" transform="translate(822.5,326.3) rotate(16.1)"/>
<rect x="-10.30" y="-3.20" width="20.60" height="6.40" rx="3.20" transform="translate(822.5,341.8) rotate(16.1)"/>
<rect x="-10.30" y="-3.20" width="20.60" height="6.40" rx="3.20" transform="translate(853.4,336.0) rotate(16.1)"/>
<rect x="-10.30" y="-3.20" width="20.60" height="6.40" rx="3.20" transform="translate(853.4,351.3) rotate(16.1)"/>
</g>
<polygon points="686.0,274.8 889.4,332.6 883.0,337.8 682.5,279.6" fill="url(#gRR)" stroke="#151515" stroke-width="1.0" stroke-linejoin="round" />
<polygon points="468.6,411.7 608.3,411.7 608.3,448.1 468.6,448.1" fill="url(#gFW)" stroke="#151515" stroke-width="1.1" stroke-linejoin="round" />
<polygon points="471.6,406.6 606.4,406.6 608.6,411.7 468.4,411.7" fill="url(#gFR)" stroke="#151515" stroke-width="1.0" stroke-linejoin="round" />
<polygon points="362.2,441.9 468.4,412.3 468.4,448.3 360.9,476.8" fill="url(#gIL)" stroke="#151515" stroke-width="1.1" stroke-linejoin="round" />
<polygon points="353.8,438.4 461.2,406.6 468.6,411.9 362.2,442.2" fill="url(#gILR)" stroke="#151515" stroke-width="1.0" stroke-linejoin="round" />
<g fill="#fff" stroke="#151515" stroke-width="1.7">
<rect x="-11.60" y="-3.30" width="23.20" height="6.60" rx="3.30" transform="translate(380.8,447.2) rotate(-15.6)"/>
<rect x="-11.60" y="-3.30" width="23.20" height="6.60" rx="3.30" transform="translate(380.8,462.0) rotate(-15.6)"/>
<rect x="-11.60" y="-3.30" width="23.20" height="6.60" rx="3.30" transform="translate(414.4,436.3) rotate(-15.6)"/>
<rect x="-11.60" y="-3.30" width="23.20" height="6.60" rx="3.30" transform="translate(414.4,451.7) rotate(-15.6)"/>
<rect x="-11.60" y="-3.30" width="23.20" height="6.60" rx="3.30" transform="translate(449.6,427.8) rotate(-15.6)"/>
<rect x="-11.60" y="-3.30" width="23.20" height="6.60" rx="3.30" transform="translate(449.6,443.9) rotate(-15.6)"/>
</g>
<polygon points="609.0,412.3 715.4,443.8 716.7,478.0 609.0,448.3" fill="url(#gIR)" stroke="#151515" stroke-width="1.1" stroke-linejoin="round" />
<polygon points="613.2,406.9 722.5,438.7 715.4,444.0 608.6,412.0" fill="url(#gIRR)" stroke="#151515" stroke-width="1.0" stroke-linejoin="round" />
<g fill="#fff" stroke="#151515" stroke-width="1.7">
<rect x="-11.60" y="-3.30" width="23.20" height="6.60" rx="3.30" transform="translate(626.7,427.8) rotate(16.5)"/>
<rect x="-11.60" y="-3.30" width="23.20" height="6.60" rx="3.30" transform="translate(626.7,443.9) rotate(16.5)"/>
<rect x="-11.60" y="-3.30" width="23.20" height="6.60" rx="3.30" transform="translate(660.7,436.8) rotate(16.5)"/>
<rect x="-11.60" y="-3.30" width="23.20" height="6.60" rx="3.30" transform="translate(660.7,452.3) rotate(16.5)"/>
<rect x="-11.60" y="-3.30" width="23.20" height="6.60" rx="3.30" transform="translate(696.1,447.1) rotate(16.5)"/>
<rect x="-11.60" y="-3.30" width="23.20" height="6.60" rx="3.30" transform="translate(696.1,461.9) rotate(16.5)"/>
</g>
<g stroke="#151515" stroke-width="1.05" fill="none">
<line x1="161.25" y1="380.25" x2="194.7" y2="371.7"/>
<line x1="305.3" y1="493.5" x2="338.7" y2="484.2"/>
<line x1="184" y1="383.7" x2="312" y2="481.2"/>
<line x1="735.3" y1="483.7" x2="766.9" y2="492.3"/>
<line x1="906.05" y1="373.3" x2="937.2" y2="381.75"/>
<line x1="770" y1="484.1" x2="923" y2="386.8"/>
<line x1="906.05" y1="338.3" x2="938.9" y2="346.6"/>
<line x1="930.6" y1="355" x2="930.6" y2="370"/>
</g>
<polygon points="178.5,379.5 193.9,384.9 187.8,392.9" fill="#151515"/>
<polygon points="318.4,486.3 303.0,480.9 309.1,472.9" fill="#151515"/>
<polygon points="763.6,488.2 774.0,475.7 779.4,484.1" fill="#151515"/>
<polygon points="929.9,382.4 919.5,394.9 914.1,386.5" fill="#151515"/>
<polygon points="930.6,346.6 935.3,362.0 925.9,362.0" fill="#151515"/>
<polygon points="930.6,377.9 925.9,362.5 935.3,362.5" fill="#151515"/>
<text x="197.0" y="465.9" font-family="Liberation Sans, sans-serif" font-size="30.5" fill="#1a1a1a" >W</text>
<text x="843.8" y="475.3" font-family="Liberation Sans, sans-serif" font-size="30.5" fill="#1a1a1a" >W</text>
<text x="945.4" y="378.6" font-family="Liberation Sans, sans-serif" font-size="31" fill="#1a1a1a" letter-spacing="0.9">50</text>
</svg>
<svg width="1920" height="933" viewBox="0 0 1920 933">
<polygon points="428.5,584.7 559.6,584.7 699.1,734.3 699.1,857.4 570.9,857.4 570.9,786.4 493.5,713.4 428.5,713.4" fill="none" stroke="#1a1a1a" stroke-width="4.6" stroke-linejoin="miter"/>
<g stroke="#1a1a1a" stroke-width="1.3" fill="none">
<line x1="425.7" y1="540.8" x2="425.7" y2="583"/>
<line x1="702.9" y1="540.8" x2="702.9" y2="730.5"/>
<line x1="440" y1="546.7" x2="686" y2="546.7"/>
<line x1="348" y1="584.3" x2="406.2" y2="584.3"/>
<line x1="348" y1="715.5" x2="406.2" y2="715.5"/>
<line x1="369" y1="600" x2="369" y2="698"/>
<line x1="425.8" y1="737.4" x2="425.8" y2="856" stroke-width="0.7"/>
<line x1="425.4" y1="855.7" x2="559.7" y2="855.7"/>
<line x1="433.6" y1="850.7" x2="531.8" y2="752"/>
<line x1="570.1" y1="869.2" x2="570.1" y2="903.5"/>
<line x1="701.1" y1="869.2" x2="701.1" y2="903.5"/>
<line x1="586" y1="896" x2="686" y2="896"/>
</g>
<polygon points="433.5,546.7 449.3,541.5 449.3,551.9" fill="#1a1a1a"/>
<polygon points="692.9,546.7 677.1,551.9 677.1,541.5" fill="#1a1a1a"/>
<polygon points="369.0,594.4 374.2,610.2 363.8,610.2" fill="#1a1a1a"/>
<polygon points="369.0,703.6 363.8,687.8 374.2,687.8" fill="#1a1a1a"/>
<polygon points="579.5,896.0 594.3,890.8 594.3,901.2" fill="#1a1a1a"/>
<polygon points="692.0,896.0 677.2,901.2 677.2,890.8" fill="#1a1a1a"/>
<text x="552.9" y="537.7" font-family="Liberation Sans, sans-serif" font-size="30.5" fill="#1a1a1a" >A</text>
<text x="328.6" y="663.4" font-family="Liberation Sans, sans-serif" font-size="30.5" fill="#1a1a1a" >W</text>
<text x="626.7" y="927" font-family="Liberation Sans, sans-serif" font-size="30.5" fill="#1a1a1a" >W</text>
<text x="0" y="0" font-family="Liberation Sans, sans-serif" font-size="30" fill="#1a1a1a" transform="translate(477.5,798.4) rotate(-70)">r</text>
</svg>
</body></html>
